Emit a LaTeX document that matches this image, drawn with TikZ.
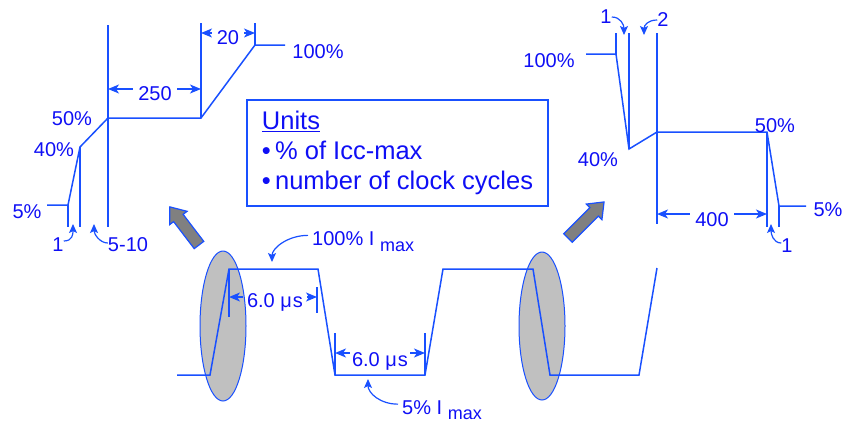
\documentclass[tikz,border=0pt]{standalone}
\usepackage{fontspec}
\setmainfont{Liberation Sans}
\usetikzlibrary{positioning,arrows.meta}
\definecolor{traceblue}{RGB}{25,80,255}
\definecolor{labelblue}{RGB}{15,15,245}
\definecolor{blobgray}{RGB}{192,192,192}
\definecolor{pointgray}{RGB}{128,128,128}

\begin{document}
\begin{tikzpicture}[
  x=1pt, y=-1pt,
  trace/.style={draw=traceblue, line width=1.5pt},
  lbl/.style={text=labelblue, font=\fontsize{20}{24}\selectfont, inner sep=0pt},
  span/.style={draw=traceblue, line width=1.5pt, {Stealth[length=11pt,width=9pt,inset=3pt]}-{Stealth[length=11pt,width=9pt,inset=3pt]}},
  halfspan/.style={draw=traceblue, line width=1.5pt, -{Stealth[length=11pt,width=9pt,inset=3pt]}},
  spanlbl/.style={lbl, fill=white, inner xsep=5pt, inner ysep=1pt},
  pointer/.style={draw=traceblue, line width=1.2pt, -{Stealth[length=9pt,width=8pt,inset=2pt]}},
  blob/.style={draw=traceblue, line width=1pt, fill=blobgray},
  bigarrow/.style={draw=traceblue, line width=1.2pt, fill=pointgray, line join=miter},
  unitbox/.style={draw=traceblue, line width=1.2pt, text=labelblue, font=\fontsize{25.5}{30}\selectfont,
    align=left, minimum width=301pt, minimum height=106pt}
]
\useasboundingbox (0,0) rectangle (843,424);

% power-up step (left)
\draw[trace] (108,25) -- (108,227);
\draw[trace] (201,23) -- (201,118);
\draw[trace] (255,23) -- (255,45);
\draw[trace] (80,147) -- (80,227);
\draw[trace] (68,205) -- (68,227);
\draw[trace] (47,205) -- (68,205) -- (80,147) -- (108,118) -- (201,118) -- (255,45) -- (285,45);
\draw[span] (108,89) -- (201,89);
\draw[span] (201,33) -- (255,33);
\node[spanlbl] (d250) at (155,94) {250};
\node[spanlbl] (d20) at (228,38) {20};
\node[lbl] (up100) at (318,52) {100\%};
\node[lbl] (up50) at (72,119) {50\%};
\node[lbl] (up40) at (54,150) {40\%};
\node[lbl] (up5) at (27,212) {5\%};
\node[lbl] (upone) at (58,245) {1};
\node[lbl] (upfive) at (128,245) {5-10};
\draw[pointer] ([yshift=4pt]upone.east) .. controls +(9,0) and +(0,10) .. (73,224);
\draw[pointer] ([yshift=2pt]upfive.west) .. controls +(-8,0) and +(0,10) .. (94,224);

% power-down step (right)
\draw[trace] (616,33) -- (616,54);
\draw[trace] (629,33) -- (629,149);
\draw[trace] (657,33) -- (657,224);
\draw[trace] (767,132) -- (767,227);
\draw[trace] (779,206) -- (779,227);
\draw[trace] (586,54) -- (616,54) -- (629,149) -- (657,132) -- (767,132) -- (779,206) -- (806,206);
\draw[span] (657,214) -- (767,214);
\node[spanlbl] (d400) at (712,219.5) {400};
\node[lbl] (dn100) at (549,61) {100\%};
\node[lbl] (dn40) at (598,160) {40\%};
\node[lbl] (dn50) at (775,126) {50\%};
\node[lbl] (dn5) at (828,210) {5\%};
\node[lbl] (dnone) at (606,17) {1};
\node[lbl] (dntwo) at (663,20) {2};
\node[lbl] (dnlast) at (787,246) {1};
\draw[pointer] (dnone.east) .. controls +(9,0) and +(0,-10) .. (624,35);
\draw[pointer] (dntwo.west) .. controls +(-9,0) and +(0,-10) .. (644,35);
\draw[pointer] ([yshift=3pt]dnlast.west) .. controls +(-8,0) and +(0,10) .. (771,224);

% units
\node[unitbox] (units) at (397.5,153) {\underline{Units}\\ •\,\% of Icc-max\\ •\,number of clock cycles};

% gray arrows
\begin{scope}[shift={(199,245)}, rotate=127.4]
  \draw[bigarrow] (0,-6) -- (34,-6) -- (34,-11) -- (48,0) -- (34,11) -- (34,6) -- (0,6) -- cycle;
\end{scope}
\begin{scope}[shift={(568,238)}, rotate=45]
  \draw[bigarrow] (0,-6) -- (37,-6) -- (37,-11) -- (51,0) -- (37,11) -- (37,6) -- (0,6) -- cycle;
\end{scope}

% current waveform
\draw[blob] (223,326) ellipse [x radius=23, y radius=75];
\draw[blob] (542,326) ellipse [x radius=23, y radius=74];
\draw[trace] (177,375) -- (210,375) -- (229,269) -- (318,269) -- (335,375) -- (425,375) -- (443,269)
  -- (533,269) -- (550,375) -- (639,375) -- (657,268);
\draw[trace] (229,269) -- (229,317);
\draw[trace] (317,287) -- (317,313);
\draw[trace] (335,333) -- (335,375);
\draw[trace] (425,333) -- (425,375);
\node[lbl] (hi) at (275,302) {6.0 μ\hspace{1pt}s};
\node[lbl] (lo) at (380,361) {6.0 μ\hspace{1pt}s};
\draw[halfspan] (243,297) -- (229,297);
\draw[halfspan] (307,297) -- (317,297);
\draw[halfspan] (350,353) -- (335,353);
\draw[halfspan] (410,353) -- (425,353);

\node[lbl, anchor=base west] (imax) at (312,245) {100\% I \raisebox{-6.5pt}{\fontsize{18}{20}\selectfont max}};
\node[lbl, anchor=base west] (imin) at (402,414.5) {5\% I \raisebox{-5pt}{\fontsize{18}{20}\selectfont max}};
\draw[pointer] ([xshift=-4pt,yshift=6pt]imax.west) .. controls +(-20,0) and +(0,-14) .. (272,262);
\draw[pointer] ([xshift=-4pt,yshift=6pt]imin.west) .. controls +(-18,0) and +(0,14) .. (368,379);
\end{tikzpicture}
\end{document}
